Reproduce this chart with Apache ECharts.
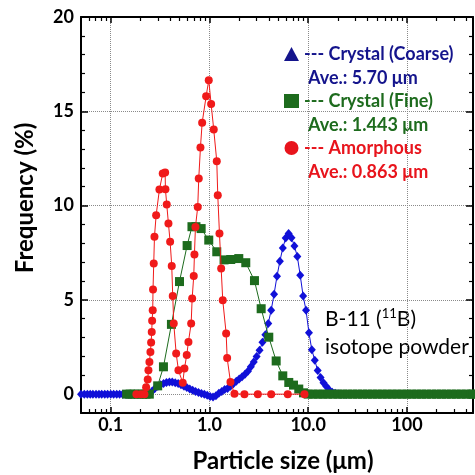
<!DOCTYPE html>
<html><head><meta charset="utf-8">
<script src="https://cdn.jsdelivr.net/npm/echarts@6/dist/echarts.min.js"></script>
<style>html,body{margin:0;padding:0;background:#fff}#c{width:475px;height:475px}</style>
</head><body><div id="c"></div>
<script>
// ---- data ----
const coarseX = [0.050,0.054,0.058,0.062,0.066,0.071,0.076,0.081,0.087,0.093,0.100,0.107,0.115,0.123,0.132,0.141,0.151,0.162,0.174,0.186,0.200,0.214,0.229,0.245,0.262,0.280,0.300,0.320,0.343,0.367,0.393,0.420,0.450,0.482,0.515,0.552,0.590,0.632,0.676,0.723,0.774,0.829,0.887,0.949,1.016,1.087,1.163,1.245,1.332,1.426,1.526,1.633,1.747,1.870,2.001,2.141,2.291,2.452,2.624,2.808,3.005,3.216,3.441,3.683,3.941,4.217,4.513,4.830,5.168,5.531,5.919,6.334,6.778,7.254,7.762,8.307,8.890,9.513,10.18,10.89,11.66,12.48,13.35,14.29,15.29,16.36,17.51,18.74,20.05,21.46,22.96,24.57];
const coarseY = [0,0,0,0,0,0,0,0,0,0,0,0,0,0,0,0,0,0,0,0,0,0,0,0.05,0.15,0.30,0.42,0.50,0.56,0.62,0.65,0.64,0.60,0.56,0.50,0.42,0.35,0.27,0.20,0.14,0.09,0.04,0.0,-0.06,-0.12,-0.15,-0.08,0.05,0.14,0.24,0.30,0.42,0.55,0.68,0.80,0.92,1.05,1.22,1.45,1.70,2.00,2.33,2.75,3.15,3.75,4.45,5.30,6.25,7.05,7.75,8.28,8.52,8.30,7.85,7.30,6.30,5.20,4.45,3.25,2.35,1.80,1.25,0.88,0.60,0.40,0.22,0.10,0.05,0.02,0,0,0];

const fineX = [0.145,0.158,0.172,0.190,0.210,0.228,0.246,0.299,0.342,0.412,0.497,0.594,0.665,0.730,0.824,0.984,1.186,1.406,1.643,1.982,2.333,2.857,3.340,3.990,4.740,5.530,6.360,7.100,8.030,8.960,10.0,11.2,12.6,14.1,15.8,17.8,20.0,22.4,25.1,28.2,31.6,35.5,39.8,44.7,50.1,56.2,63.1,70.8,79.4,89.1,100,112,126,141,158,178,200,224,251,282,316,355,398,447,468];
const fineY = [0,0,0,0,0,0,0,0.44,1.45,3.70,5.97,7.88,8.88,8.88,8.78,8.17,7.55,7.12,7.14,7.19,6.97,6.02,4.53,3.02,1.76,0.97,0.62,0.48,0.27,0.07,0,0,0,0,0,0,0,0,0,0,0,0,0,0,0,0,0,0,0,0,0,0,0,0,0,0,0,0,0,0,0,0,0,0,0];

const amorX = [0.182,0.203,0.2195,0.2284,0.237,0.241,0.2466,0.2524,0.2566,0.2602,0.2627,0.2663,0.2682,0.2727,0.2773,0.2884,0.3113,0.3363,0.3557,0.3582,0.3693,0.3842,0.3997,0.415,0.4248,0.4348,0.46,0.4853,0.5364,0.558,0.5888,0.6124,0.6527,0.668,0.6933,0.7047,0.7214,0.7611,0.7792,0.8106,0.8433,0.9259,0.9838,1.040,1.105,1.186,1.214,1.263,1.314,1.364,1.476,1.511,1.632,1.792,2.26,3.09,4.22,6.21,9.17];
const amorY = [0,0,0,0.36,0.78,1.27,1.71,2.24,2.74,3.30,3.89,4.45,5.55,6.93,8.34,9.49,10.85,11.70,11.75,10.87,10.06,9.05,8.08,6.80,5.21,3.75,2.16,1.27,0.60,1.36,2.07,2.77,3.75,5.07,6.26,7.41,8.87,9.93,11.44,13.08,14.39,15.80,16.65,15.38,14.03,12.35,10.55,8.52,6.66,4.98,3.22,1.92,0.65,0.02,0,0,0,0,0];

const seriesNames = ['Crystal (Coarse)', 'Crystal (Fine)', 'Amorphous'];
const averages = ['Ave.: 5.70 μm', 'Ave.: 1.443 μm', 'Ave.: 0.863 μm'];

const xTickValues = [0.1, 1, 10, 100];
const xTickLabels = ['0.1', '1.0', '10.0', '100'];
const xMinorTicks = [0.06,0.07,0.08,0.09,0.2,0.3,0.4,0.5,0.6,0.7,0.8,0.9,2,3,4,5,6,7,8,9,20,30,40,50,60,70,80,90,200,300,400];
const yTickValues = [0, 5, 10, 15, 20];
const yMinorTicks = [1,2,3,4,6,7,8,9,11,12,13,14,16,17,18,19];

// ---- chart ----
const FONT = 'Lato, "Open Sans", sans-serif';
const BLUE = '#1010d8', BLUE_T = '#14148c';
const GREEN = '#1d6b1d', GREEN_T = '#1d6b1d';
const RED = '#f01a1a', RED_T = '#e8141c';

function zip(xs, ys) { return xs.map((x, i) => [x, ys[i]]); }

const gridRect = { left: 81, top: 17, width: 392, height: 396, outerBoundsMode: 'none' };
const XMIN = 0.05, XMAX = 467, YMIN = -1, YMAX = 20;

function xAxisMajor(pos, labels) {
  return {
    type: 'log', logBase: 10, gridIndex: 0, position: pos, min: XMIN, max: XMAX,
    axisLine: { show: true, onZero: false, lineStyle: { color: '#000', width: 2 } },
    axisTick: { show: true, inside: true, length: 6, customValues: xTickValues, lineStyle: { color: '#000', width: 1.5 } },
    axisLabel: labels ? {
      show: true, customValues: xTickValues, margin: 3,
      formatter: function (v) {
        let best = 0;
        for (let i = 1; i < xTickValues.length; i++) {
          if (Math.abs(Math.log10(v) - Math.log10(xTickValues[i])) < Math.abs(Math.log10(v) - Math.log10(xTickValues[best]))) best = i;
        }
        return xTickLabels[best];
      },
      color: '#000', fontSize: 18, fontWeight: 'bold', fontFamily: FONT
    } : { show: false },
    splitLine: labels ? { show: true, lineStyle: { color: '#8a8a8a', width: 1, type: 'dotted' } } : { show: false },
    minorTick: { show: false }, minorSplitLine: { show: false }
  };
}
function xAxisMinor(pos) {
  return {
    type: 'log', logBase: 10, gridIndex: 1, position: pos, min: XMIN, max: XMAX,
    axisLine: { show: false, onZero: false },
    axisTick: { show: true, inside: true, length: 4, customValues: xMinorTicks, lineStyle: { color: '#000', width: 1.2 } },
    axisLabel: { show: false }, splitLine: { show: false }
  };
}
function yAxisMajor(pos, labels) {
  return {
    type: 'value', gridIndex: 0, position: pos, min: YMIN, max: YMAX,
    axisLine: { show: true, onZero: false, lineStyle: { color: '#000', width: 2 } },
    axisTick: { show: true, inside: true, length: 7, customValues: yTickValues, lineStyle: { color: '#000', width: 1.5 } },
    axisLabel: labels ? { show: true, customValues: yTickValues, margin: 7, color: '#000', fontSize: 18, fontWeight: 'bold', fontFamily: FONT } : { show: false },
    splitLine: labels ? { show: true, lineStyle: { color: '#8a8a8a', width: 1, type: 'dotted' } } : { show: false }
  };
}
function yAxisMinor(pos) {
  return {
    type: 'value', gridIndex: 1, position: pos, min: YMIN, max: YMAX,
    axisLine: { show: false, onZero: false },
    axisTick: { show: true, inside: true, length: 4, customValues: yMinorTicks, lineStyle: { color: '#000', width: 1.2 } },
    axisLabel: { show: false }, splitLine: { show: false }
  };
}

const chart = echarts.init(document.getElementById('c'), null, { renderer: 'canvas' });
chart.setOption({
  animation: false,
  backgroundColor: '#fff',
  grid: [Object.assign({}, gridRect), Object.assign({}, gridRect)],
  xAxis: [xAxisMajor('bottom', true), xAxisMajor('top', false), xAxisMinor('bottom'), xAxisMinor('top')],
  yAxis: [yAxisMajor('left', true), yAxisMajor('right', false), yAxisMinor('left'), yAxisMinor('right')],
  legend: {
    orient: 'vertical', left: 279, top: 40, itemWidth: 15, itemHeight: 14, itemGap: 29,
    selectedMode: false,
    formatter: function (n) { return '--- ' + n; },
    textStyle: { fontSize: 18, fontWeight: 'bold', fontFamily: FONT, lineHeight: 17 },
    data: [
      { name: seriesNames[0], icon: 'triangle', itemStyle: { color: BLUE_T }, textStyle: { color: BLUE_T } },
      { name: seriesNames[1], icon: 'rect', itemStyle: { color: GREEN_T }, textStyle: { color: GREEN_T } },
      { name: seriesNames[2], icon: 'circle', itemStyle: { color: RED_T }, textStyle: { color: RED_T } }
    ]
  },
  graphic: [
    { type: 'text', left: 308, top: 69, style: { text: averages[0], fill: BLUE_T, font: 'bold 18px ' + FONT } },
    { type: 'text', left: 308, top: 116, style: { text: averages[1], fill: GREEN_T, font: 'bold 18px ' + FONT } },
    { type: 'text', left: 308, top: 163, style: { text: averages[2], fill: RED_T, font: 'bold 18px ' + FONT } },
    { type: 'text', left: 325, top: 307, style: {
        text: 'B-11 ({sup|11}B)', fill: '#000', font: '21px ' + FONT, lineHeight: 24,
        rich: { sup: { fontSize: 13, fontFamily: FONT, fill: '#000', verticalAlign: 'top', lineHeight: 14 } }
    } },
    { type: 'text', left: 325, top: 337, style: { text: 'isotope powder', fill: '#000', font: '21px ' + FONT } },
    { type: 'text', x: 283, y: 461, style: { text: 'Particle size (μm)', fill: '#000', font: 'bold 24px ' + FONT, textAlign: 'center', textVerticalAlign: 'middle' } },
    { type: 'text', x: 25, y: 198, rotation: Math.PI / 2, style: { text: 'Frequency (%)', fill: '#000', font: 'bold 24px ' + FONT, textAlign: 'center', textVerticalAlign: 'middle' } }
  ],
  series: [
    { name: seriesNames[0], type: 'line', xAxisIndex: 0, yAxisIndex: 0, data: zip(coarseX, coarseY),
      symbol: 'diamond', symbolSize: [8, 9], itemStyle: { color: BLUE }, lineStyle: { color: BLUE, width: 1 }, z: 3 },
    { name: seriesNames[1], type: 'line', xAxisIndex: 0, yAxisIndex: 0, data: zip(fineX, fineY),
      symbol: 'rect', symbolSize: 9, itemStyle: { color: GREEN }, lineStyle: { color: GREEN, width: 1 }, z: 4 },
    { name: seriesNames[2], type: 'line', xAxisIndex: 0, yAxisIndex: 0, data: zip(amorX, amorY),
      symbol: 'circle', symbolSize: 8, itemStyle: { color: RED }, lineStyle: { color: RED, width: 1 }, z: 5 },
    { type: 'line', xAxisIndex: 2, yAxisIndex: 2, data: [], silent: true }
  ]
});
</script>
</body></html>
